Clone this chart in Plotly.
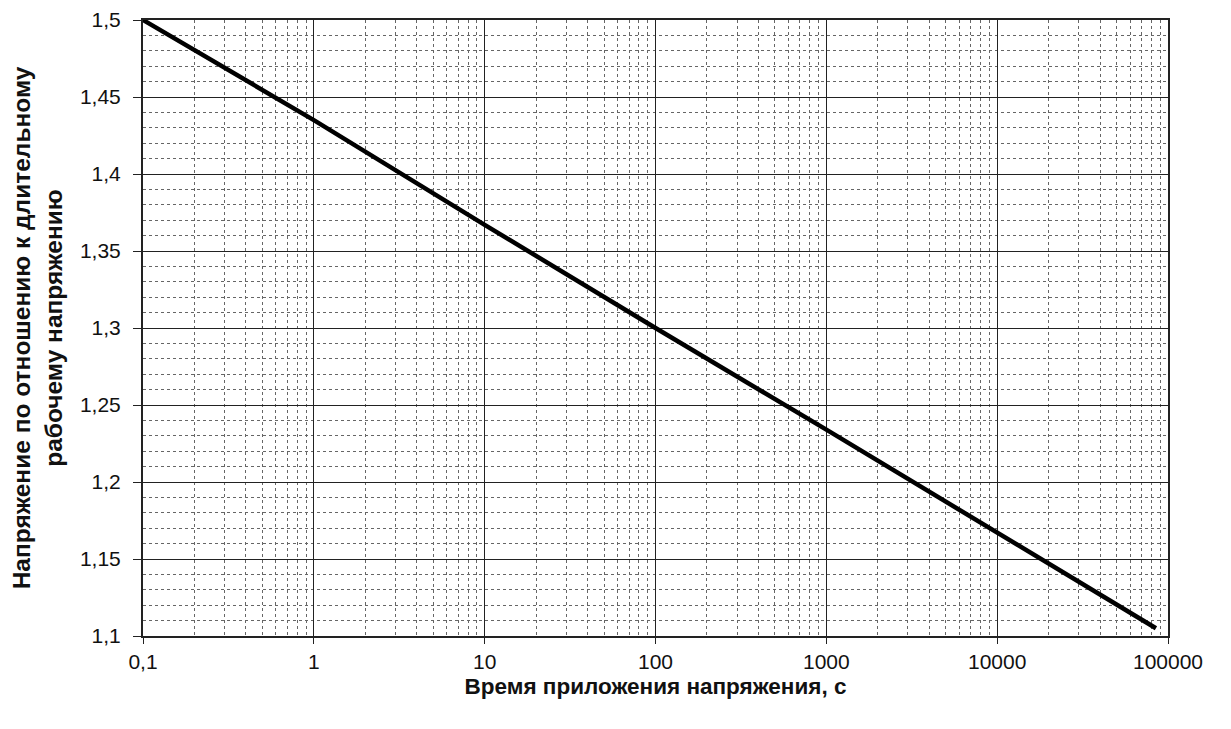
import plotly.graph_objects as go

# Data
time_s = [0.1, 1, 10, 100, 1000, 10000, 85000]
ratio = [1.5, 1.435, 1.367, 1.3, 1.234, 1.167, 1.105]

x_tickvals = [0.1, 1, 10, 100, 1000, 10000, 100000]
x_ticktext = ["0,1", "1", "10", "100", "1000", "10000", "100000"]
y_tickvals = [1.1, 1.15, 1.2, 1.25, 1.3, 1.35, 1.4, 1.45, 1.5]
y_ticktext = ["1,1", "1,15", "1,2", "1,25", "1,3", "1,35", "1,4", "1,45", "1,5"]

x_title = "Время приложения напряжения, с"
y_title = "Напряжение по отношению к длительному<br>рабочему напряжению"

fig = go.Figure()
fig.add_trace(go.Scatter(
    x=time_s, y=ratio, mode="lines",
    line=dict(color="black", width=4.5),
    showlegend=False,
))

font = "Liberation Sans, Arial, sans-serif"

fig.update_layout(
    width=1231, height=729,
    margin=dict(l=135, r=71, t=12, b=101),
    paper_bgcolor="white", plot_bgcolor="white",
    font=dict(family=font, color="#111", size=18),
    xaxis=dict(
        type="log", range=[-1, 5], automargin=False,
        tickvals=x_tickvals, ticktext=x_ticktext,
        tickfont=dict(size=21),
        ticks="outside", ticklen=6, tickcolor="#222",
        ticklabelstandoff=0,
        showline=True, linecolor="#222", linewidth=2, mirror=True,
        showgrid=True, gridcolor="#222", gridwidth=1.3,
        minor=dict(dtick="D1", showgrid=True, gridcolor="#666",
                   griddash="dot", gridwidth=1.3, ticks=""),
        title=dict(text="<b>" + x_title + "</b>", font=dict(size=22.5), standoff=6),
        zeroline=False,
    ),
    yaxis=dict(
        range=[1.1, 1.5], automargin=False,
        tickvals=y_tickvals, ticktext=y_ticktext,
        tickfont=dict(size=21),
        ticks="outside", ticklen=8, tickcolor="#222",
        ticklabelstandoff=8,
        showline=True, linecolor="#222", linewidth=2, mirror=True,
        showgrid=True, gridcolor="#222", gridwidth=1.3,
        minor=dict(dtick=0.01, showgrid=True, gridcolor="#666",
                   griddash="dot", gridwidth=1.3, ticks=""),
        title=dict(text="<b>" + y_title + "</b>", font=dict(size=24.5), standoff=14),
        zeroline=False,
    ),
)

fig.write_html("out.html")
